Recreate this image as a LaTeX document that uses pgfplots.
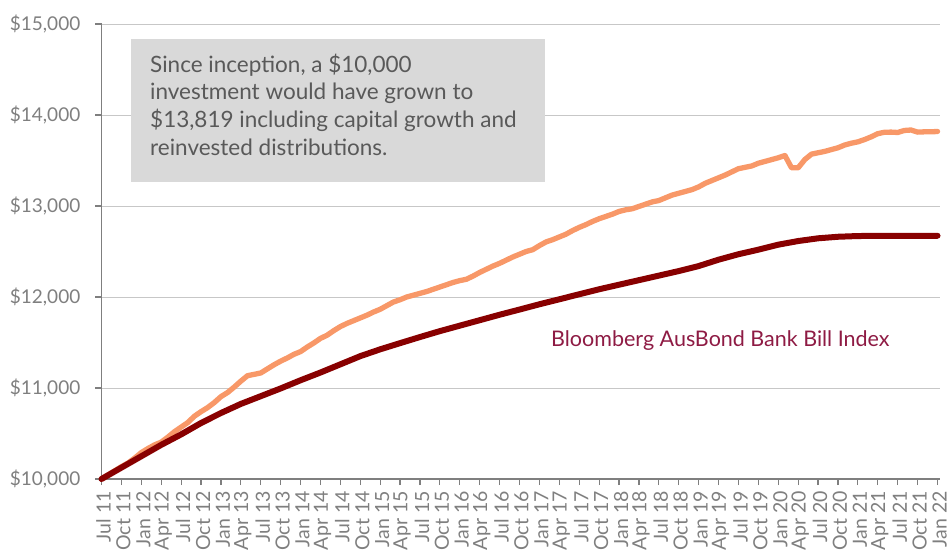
\documentclass[border=0pt]{standalone}
\usepackage{fontspec}
\setmainfont{Lato}
\usepackage{pgfplots}
\pgfplotsset{compat=1.18}
\usepackage{pgfplotstable}
\definecolor{fundc}{RGB}{248,152,104}
\definecolor{idxc}{RGB}{136,0,0}
\definecolor{labc}{RGB}{142,27,68}
\definecolor{tickc}{RGB}{127,127,127}
\definecolor{boxc}{RGB}{217,217,217}
\definecolor{boxtext}{RGB}{89,89,89}

\pgfplotstableread{
m v
0 10000
1 10045
2 10090
3 10135
4 10175
5 10230
6 10290
7 10335
8 10375
9 10405
10 10460
11 10520
12 10570
13 10620
14 10690
15 10740
16 10785
17 10840
18 10905
19 10950
20 11010
21 11075
22 11135
23 11150
24 11165
25 11210
26 11255
27 11295
28 11330
29 11370
30 11400
31 11450
32 11495
33 11545
34 11580
35 11630
36 11675
37 11710
38 11740
39 11770
40 11800
41 11835
42 11865
43 11905
44 11945
45 11970
46 12000
47 12020
48 12040
49 12060
50 12085
51 12110
52 12135
53 12160
54 12180
55 12195
56 12230
57 12270
58 12305
59 12340
60 12370
61 12405
62 12440
63 12470
64 12500
65 12520
66 12565
67 12605
68 12630
69 12660
70 12690
71 12730
72 12765
73 12795
74 12830
75 12860
76 12885
77 12910
78 12940
79 12958
80 12970
81 12995
82 13020
83 13045
84 13060
85 13090
86 13120
87 13140
88 13160
89 13180
90 13210
91 13250
92 13280
93 13310
94 13340
95 13375
96 13410
97 13425
98 13440
99 13470
100 13490
101 13510
102 13530
103 13555
104 13420
105 13420
106 13510
107 13570
108 13585
109 13600
110 13620
111 13640
112 13670
113 13690
114 13705
115 13730
116 13760
117 13795
118 13810
119 13812
120 13808
121 13830
122 13835
123 13812
124 13815
125 13815
126 13819
}\fund

\pgfplotstableread{
m v
0 10000
3 10125
6 10250
9 10375
12 10490
15 10615
18 10725
21 10825
24 10910
27 10995
30 11085
33 11170
36 11260
39 11350
42 11425
45 11493
48 11560
51 11625
54 11685
57 11745
60 11805
63 11862
66 11920
69 11975
72 12030
75 12085
78 12135
81 12185
84 12235
87 12285
90 12340
93 12410
96 12470
99 12520
102 12575
105 12615
108 12645
111 12662
114 12670
117 12672
120 12673
123 12673
126 12673
}\bench

\begin{document}
\begin{tikzpicture}
\useasboundingbox (0,0) rectangle (948pt,555pt);
\begin{axis}[
  at={(101.5pt,76pt)}, anchor=south west,
  scale only axis, width=838pt, height=455pt,
  xmin=0, xmax=126.3, ymin=10000, ymax=15000,
  scaled y ticks=false,
  axis x line=bottom, axis y line=left,
  axis line style={-, draw=tickc, line width=1.3pt},
  xtick={0,3,...,126},
  xticklabels={Jul 11,Oct 11,Jan 12,Apr 12,Jul 12,Oct 12,Jan 13,Apr 13,Jul 13,Oct 13,Jan 14,Apr 14,Jul 14,Oct 14,Jan 15,Apr 15,Jul 15,Oct 15,Jan 16,Apr 16,Jul 16,Oct 16,Jan 17,Apr 17,Jul 17,Oct 17,Jan 18,Apr 18,Jul 18,Oct 18,Jan 19,Apr 19,Jul 19,Oct 19,Jan 20,Apr 20,Jul 20,Oct 20,Jan 21,Apr 21,Jul 21,Oct 21,Jan 22},
  x tick label style={rotate=90, anchor=east, font=\fontsize{19.5}{19.5}\selectfont, text=tickc, inner sep=0pt, yshift=-2pt, xshift=-6pt},
  ytick={10000,11000,12000,13000,14000,15000},
  yticklabels={{\$10,000},{\$11,000},{\$12,000},{\$13,000},{\$14,000},{\$15,000}},
  y tick label style={font=\fontsize{19}{19}\selectfont, text=tickc, inner sep=0pt, xshift=-15pt},
  tick style={draw=tickc, line width=1.2pt},
  tick align=outside, major tick length=6pt,
  ymajorgrids, grid style={draw=black!22, line width=1pt},
  clip=false,
]
\addplot[fundc, line width=5.3pt, line join=round, line cap=round] table[x=m, y=v] {\fund};
\addplot[idxc, line width=6pt, line join=round, line cap=round] table[x=m, y=v] {\bench};
\end{axis}
\fill[boxc] (131pt,373pt) rectangle (545pt,516pt);
\begin{scope}[every node/.style={anchor=base west, inner sep=0pt, text=boxtext, font=\fontsize{22.5}{26}\selectfont}]
\node at (150pt,482.3pt) {Since inception, a \$10,000};
\node at (150pt,455pt) {investment would have grown to};
\node at (150pt,427pt) {\$13,819 including capital growth and};
\node at (150pt,399.3pt) {reinvested distributions.};
\end{scope}
\node[anchor=base west, inner sep=0pt, text=labc, font=\fontsize{21.5}{21.5}\selectfont] at (551pt,209pt) {Bloomberg AusBond Bank Bill Index};
\end{tikzpicture}
\end{document}
